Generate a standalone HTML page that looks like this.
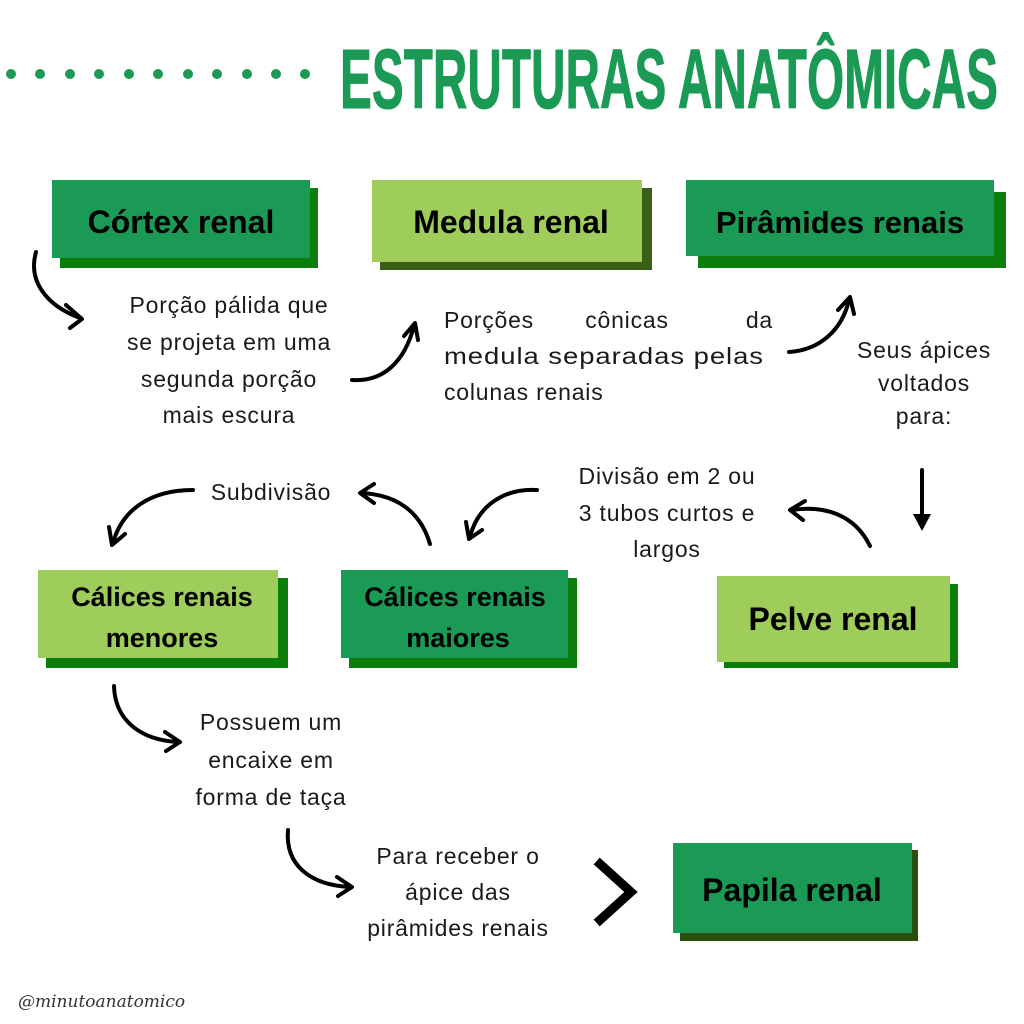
<!DOCTYPE html>
<html><head><meta charset="utf-8"><style>
html,body{margin:0;padding:0;background:#fff}
svg{display:block}
.t{font-family:"Liberation Sans",sans-serif;font-size:23px;fill:#1a1a1a;text-anchor:middle;letter-spacing:0.8px}
.b{font-family:"Liberation Sans",sans-serif;font-weight:bold;fill:#000;text-anchor:middle}
.a{fill:none;stroke:#000;stroke-width:4;stroke-linecap:round;stroke-linejoin:round}
</style></head><body>
<svg width="1024" height="1024" viewBox="0 0 1024 1024" xmlns="http://www.w3.org/2000/svg">
<g fill="#1a9a55">
<circle cx="11" cy="74" r="5"/><circle cx="40" cy="74" r="5"/><circle cx="70" cy="74" r="5"/><circle cx="99" cy="74" r="5"/><circle cx="129" cy="74" r="5"/><circle cx="158" cy="74" r="5"/><circle cx="188" cy="74" r="5"/><circle cx="217" cy="74" r="5"/><circle cx="247" cy="74" r="5"/><circle cx="276" cy="74" r="5"/><circle cx="305" cy="74" r="5"/>
</g>
<text x="340" y="108" textLength="658" lengthAdjust="spacingAndGlyphs" style="font-family:'Liberation Sans Narrow','Liberation Sans',sans-serif;font-weight:bold;font-size:84px;fill:#1a9a55;stroke:#1a9a55;stroke-width:1">ESTRUTURAS ANATÔMICAS</text>

<rect x="60" y="188" width="258" height="80" fill="#0a7d0a"/><rect x="52" y="180" width="258" height="78" fill="#1a9a55"/>
<text class="b" x="181" y="233" font-size="32">Córtex renal</text>
<rect x="380" y="188" width="272" height="82" fill="#3a5f14"/><rect x="372" y="180" width="270" height="82" fill="#9ecd5c"/>
<text class="b" x="511" y="233" font-size="32">Medula renal</text>
<rect x="698" y="192" width="308" height="76" fill="#0a7d0a"/><rect x="686" y="180" width="308" height="76" fill="#1a9a55"/>
<text class="b" x="840" y="233" font-size="31">Pirâmides renais</text>

<rect x="46" y="578" width="242" height="90" fill="#0a7d0a"/><rect x="38" y="570" width="240" height="88" fill="#9ecd5c"/>
<text class="b" x="162" y="606" font-size="27">Cálices renais</text><text class="b" x="162" y="647" font-size="27">menores</text>
<rect x="349" y="578" width="228" height="90" fill="#0a7d0a"/><rect x="341" y="570" width="227" height="88" fill="#1a9a55"/>
<text class="b" x="455" y="606" font-size="27">Cálices renais</text><text class="b" x="458" y="647" font-size="27">maiores</text>
<rect x="724" y="584" width="234" height="84" fill="#0a7d0a"/><rect x="717" y="576" width="233" height="86" fill="#9ecd5c"/>
<text class="b" x="833" y="630" font-size="32">Pelve renal</text>
<rect x="680" y="850" width="238" height="91" fill="#2d4f0e"/><rect x="673" y="843" width="239" height="90" fill="#1a9a55"/>
<text class="b" x="792" y="901" font-size="32">Papila renal</text>

<text class="t" x="229" y="313">Porção pálida que</text>
<text class="t" x="229" y="350">se projeta em uma</text>
<text class="t" x="229" y="387">segunda porção</text>
<text class="t" x="229" y="423">mais escura</text>

<text class="t" x="444" y="328" style="text-anchor:start">Porções</text>
<text class="t" x="627" y="328">cônicas</text>
<text class="t" x="773" y="328" style="text-anchor:end">da</text>
<text class="t" x="444" y="364" style="text-anchor:start" textLength="320" lengthAdjust="spacingAndGlyphs">medula separadas pelas</text>
<text class="t" x="444" y="400" style="text-anchor:start">colunas renais</text>

<text class="t" x="924" y="358" font-size="21">Seus ápices</text>
<text class="t" x="924" y="391" font-size="21">voltados</text>
<text class="t" x="924" y="424" font-size="21">para:</text>

<text class="t" x="667" y="484">Divisão em 2 ou</text>
<text class="t" x="667" y="521">3 tubos curtos e</text>
<text class="t" x="667" y="557">largos</text>

<text class="t" x="271" y="500">Subdivisão</text>

<text class="t" x="271" y="730">Possuem um</text>
<text class="t" x="271" y="768">encaixe em</text>
<text class="t" x="271" y="805">forma de taça</text>

<text class="t" x="458" y="864">Para receber o</text>
<text class="t" x="458" y="900">ápice das</text>
<text class="t" x="458" y="936">pirâmides renais</text>

<text x="18" y="1007" style="font-family:'DejaVu Serif',serif;font-style:italic;font-size:17px;fill:#333">@minutoanatomico</text>

<path class="a" d="M36 252 C28 280 45 305 80 318"/><path class="a" d="M66 305 L82 319 L70 328"/>
<path class="a" d="M352 380 C385 382 405 360 414 326"/><path class="a" d="M404 336 L415 323 L418 340"/>
<path class="a" d="M789 352 C820 350 842 330 849 300"/><path class="a" d="M838 310 L850 297 L854 314"/>
<path class="a" d="M922 470 L922 518"/><path d="M913 514 L931 514 L922 531 Z" fill="#000"/>
<path class="a" d="M870 546 C855 515 825 505 792 510"/><path class="a" d="M805 501 L790 510 L803 520"/>
<path class="a" d="M537 490 C505 488 478 505 470 537"/><path class="a" d="M466 522 L469 539 L482 530"/>
<path class="a" d="M430 544 C420 510 395 495 362 493"/><path class="a" d="M374 484 L360 493 L374 503"/>
<path class="a" d="M193 490 C150 490 122 510 113 543"/><path class="a" d="M109 527 L112 545 L125 534"/>
<path class="a" d="M114 686 C115 720 140 740 178 742"/><path class="a" d="M165 732 L180 742 L166 751"/>
<path class="a" d="M288 830 C285 865 310 885 350 887"/><path class="a" d="M337 877 L352 887 L338 896"/>
<path d="M600 864 L631 892 L600 920" fill="none" stroke="#000" stroke-width="9" stroke-linecap="square"/>
</svg>
</body></html>
